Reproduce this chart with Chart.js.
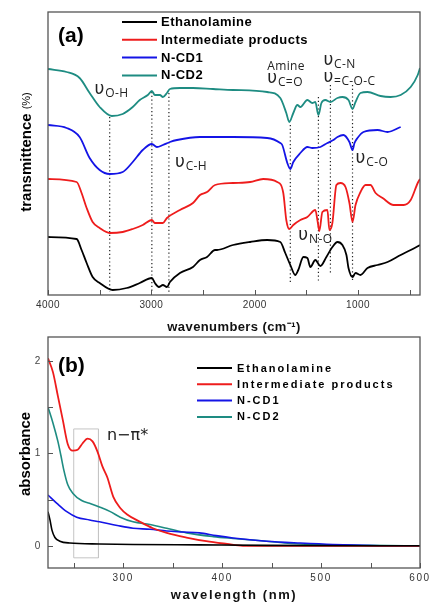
<!DOCTYPE html>
<html>
<head>
<meta charset="utf-8">
<script src="https://cdn.jsdelivr.net/npm/chart.js@4.4.1/dist/chart.umd.min.js"></script>
<style>
  html, body { margin: 0; padding: 0; background: #fff; }
  #wrapA { position: absolute; left: 0; top: 0; width: 429px; height: 335px; }
  #wrapB { position: absolute; left: 0; top: 335px; width: 429px; height: 268px; }
</style>
</head>
<body>
<div id="wrapA"><canvas id="ftirChart"></canvas></div>
<div id="wrapB"><canvas id="uvChart"></canvas></div>
<script>
// --- Daten (a): FTIR, Wellenzahl in cm-1, Transmission in willkürlichen Einheiten ---
const seriesNames = ['Ethanolamine', 'Intermediate products', 'N-CD1', 'N-CD2'];
const seriesColors = ['#000000', '#ee1c1c', '#1414e6', '#1e8c82'];

const ethWn = [4000,3723,3675,3626,3568,3500,3374,3238,3112,2995,2966,2927,2888,2849,2820,2723,2597,2529,2461,2383,2364,2209,2044,1879,1752,1704,1655,1607,1578,1529,1490,1461,1413,1364,1306,1248,1199,1151,1112,1092,1053,1024,976,908,811,714,587,490,400];
const ethT  = [58,56,45,32,18,12,5,7,12,17,12,8,10,8,13,22,28,35,38,45,45,50,53,55,53,42,30,20,25,38,37,28,35,29,38,48,53,50,40,27,18,22,20,27,30,33,40,45,50];

const intWn = [4000,3723,3675,3626,3568,3500,3403,3277,3180,3083,2995,2966,2917,2888,2849,2723,2597,2529,2461,2383,2209,2044,1917,1782,1723,1694,1665,1626,1558,1490,1413,1393,1374,1345,1296,1277,1248,1209,1170,1121,1083,1053,1024,976,927,879,830,762,655,558,490,422,400];
const intT  = [116,113,102,87,73,67,62,63,66,70,75,72,72,72,77,85,92,100,103,110,112,113,116,113,102,75,66,70,75,78,85,75,64,83,85,65,72,110,112,108,92,73,90,103,110,110,102,97,90,90,95,112,116];

const cd1Wn = [4000,3820,3694,3597,3500,3403,3277,3180,3083,2995,2946,2888,2820,2752,2529,2209,1879,1752,1733,1684,1655,1626,1558,1490,1442,1364,1296,1238,1199,1141,1083,1053,1034,1005,947,811,714,587];
const cd1T  = [170,167,158,137,125,121,123,133,145,151,148,150,153,155,158,158,157,152,150,132,126,133,142,148,147,148,152,155,158,160,153,145,152,157,163,165,163,168];

const cd2Wn = [4000,3820,3694,3597,3500,3383,3277,3180,3112,3034,2995,2966,2917,2888,2849,2820,2723,2597,2403,2209,1879,1752,1694,1665,1626,1587,1558,1490,1442,1413,1383,1354,1316,1267,1199,1151,1092,1053,1024,976,908,782,685,587,490,422,400];
const cd2T  = [226,223,217,202,188,179,181,188,195,200,204,200,200,198,202,206,207,207,206,205,203,197,182,173,182,190,188,195,192,193,180,192,195,193,197,198,195,186,193,202,203,199,198,200,208,220,227];

// gepunktete Markierungslinien (Bandenlage, oberes/unteres Ende)
const markerWn     = [3403, 2995, 2830, 1655, 1383, 1267, 1053];
const markerTop    = [178, 203, 202, 170, 198, 210, 210];
const markerBottom = [3, 3, 3, 13, 13, 20, 13];

const ftirTicks = [4000, 3500, 3000, 2500, 2000, 1500, 1000, 500];

// Beschriftungen der Banden
const ftirLabels = [
  { wn: 3549, t: 201, main: 'υ', sub: 'O-H' },
  { wn: 2772, t: 128, main: 'υ', sub: 'C-H' },
  { wn: 1879, t: 225, main: 'Amine', sub: '' },
  { wn: 1879, t: 212, main: 'υ', sub: 'C=O' },
  { wn: 1335, t: 230, main: 'υ', sub: 'C-N' },
  { wn: 1335, t: 213, main: 'υ', sub: '=C-O-C' },
  { wn: 1024, t: 132, main: 'υ', sub: 'C-O' },
  { wn: 1578, t: 55,  main: 'υ', sub: 'N-O' }
];

// --- Daten (b): UV-Vis ---
const ethNm  = [224,226,228,231,236,246,276,310,377,445,600];
const ethAbs = [0.37,0.28,0.17,0.09,0.05,0.03,0.02,0.015,0.01,0.005,0.0];

const intNm  = [224,229,234,239,244,249,254,259,264,269,274,279,284,290,297,304,317,330,344,364,384,405,421,600];
const intAbs = [2.03,1.88,1.62,1.36,1.10,1.03,1.04,1.11,1.16,1.13,1.02,0.86,0.74,0.53,0.41,0.34,0.26,0.19,0.14,0.09,0.05,0.02,0.0,0.0];

const cd1Nm  = [224,233,243,253,266,276,294,310,327,344,360,377,394,411,445,479,512,580,600];
const cd1Abs = [0.55,0.46,0.37,0.31,0.28,0.26,0.22,0.19,0.18,0.16,0.15,0.14,0.11,0.085,0.05,0.03,0.015,0.0,0.0];

const cd2Nm  = [224,229,234,237,240,244,249,258,266,276,287,297,310,327,344,364,391,411,445,479,512,550,600];
const cd2Abs = [1.50,1.33,1.13,0.98,0.82,0.66,0.57,0.49,0.46,0.42,0.37,0.31,0.26,0.23,0.19,0.14,0.10,0.08,0.05,0.02,0.01,0.005,0.0];

// grauer Kasten um die n-pi* Bande
const boxNm  = [250, 250, 275, 275, 250];
const boxAbs = [-0.13, 1.265, 1.265, -0.13, -0.13];

const uvXTicks = [250, 300, 350, 400, 450, 500, 550, 600];
const uvYTicks = [0, 0.5, 1, 1.5, 2];

// --- Hilfsfunktionen ---
function toPoints(xs, ys) {
    return xs.map((x, i) => ({ x: x, y: ys[i] }));
}

function seriesDataset(i, xs, ys, width) {
    return {
        label: seriesNames[i],
        data: toPoints(xs, ys),
        borderColor: seriesColors[i],
        borderWidth: width,
        pointRadius: 0,
        tension: 0.3,
        cubicInterpolationMode: 'monotone',
        inLegend: true
    };
}

// Rahmen + nach innen zeigende Ticks
const framePlugin = {
    id: 'frame',
    afterDatasetsDraw(chart, args, opts) {
        const { ctx, chartArea: a, scales } = chart;
        ctx.save();
        ctx.strokeStyle = '#555';
        ctx.lineWidth = 1.3;
        ctx.strokeRect(a.left, a.top, a.right - a.left, a.bottom - a.top);
        ctx.lineWidth = 1;
        ctx.beginPath();
        (opts.xTicks || []).forEach(v => {
            const x = Math.round(scales.x.getPixelForValue(v)) + 0.5;
            ctx.moveTo(x, a.bottom);
            ctx.lineTo(x, a.bottom - opts.len);
        });
        (opts.yTicks || []).forEach(v => {
            const y = Math.round(scales.y.getPixelForValue(v)) + 0.5;
            ctx.moveTo(a.left, y);
            ctx.lineTo(a.left + opts.len, y);
        });
        ctx.stroke();
        ctx.restore();
    }
};

// Legende, Panelbuchstabe, Y-Titel
const textPlugin = {
    id: 'texts',
    beforeDraw(chart, args, opts) {
        chart.ctx.letterSpacing = opts.spacing || '0px';
    },
    afterDraw(chart, args, opts) {
        const ctx = chart.ctx;
        ctx.save();
        ctx.fillStyle = '#000';
        // Legende
        const lg = opts.legend;
        const items = chart.data.datasets.filter(d => d.inLegend);
        ctx.font = lg.font;
        ctx.letterSpacing = lg.spacing;
        ctx.textBaseline = 'middle';
        ctx.textAlign = 'left';
        items.forEach((d, i) => {
            const y = lg.y + i * lg.step;
            ctx.strokeStyle = d.borderColor;
            ctx.lineWidth = 2;
            ctx.beginPath();
            ctx.moveTo(lg.x1, y);
            ctx.lineTo(lg.x2, y);
            ctx.stroke();
            ctx.fillStyle = '#000';
            ctx.fillText(d.label, lg.textX, y + 0.5);
        });
        ctx.letterSpacing = '0px';
        // Panelbuchstabe
        ctx.font = 'bold 21px "Liberation Sans", Arial, sans-serif';
        ctx.fillText(opts.panel.text, opts.panel.x, opts.panel.y);
        // Y-Titel (gedreht, evtl. zweiteilig)
        const yt = opts.yTitle;
        ctx.translate(yt.x, yt.y);
        ctx.rotate(-Math.PI / 2);
        ctx.font = yt.font1;
        const w1 = ctx.measureText(yt.text1).width;
        let w2 = 0;
        if (yt.text2) {
            ctx.font = yt.font2;
            w2 = ctx.measureText(yt.text2).width + 4;
        }
        const start = -(w1 + w2) / 2;
        ctx.font = yt.font1;
        ctx.fillText(yt.text1, start, 0);
        if (yt.text2) {
            ctx.font = yt.font2;
            ctx.fillText(yt.text2, start + w1 + 4, 0);
        }
        ctx.restore();
        ctx.letterSpacing = '0px';
    }
};

// Bandenbeschriftungen in Datenkoordinaten
const bandLabelPlugin = {
    id: 'bandLabels',
    afterDatasetsDraw(chart, args, opts) {
        if (!opts.items) return;
        const { ctx, scales } = chart;
        ctx.save();
        ctx.fillStyle = '#222';
        ctx.textBaseline = 'alphabetic';
        ctx.textAlign = 'left';
        opts.items.forEach(it => {
            const x = scales.x.getPixelForValue(it.wn);
            const y = scales.y.getPixelForValue(it.t);
            if (it.main === 'υ') {
                ctx.font = '17px "DejaVu Sans", sans-serif';
                ctx.fillText(it.main, x, y);
                const w = ctx.measureText(it.main).width;
                ctx.font = '12px "Open Sans", sans-serif';
                ctx.fillText(it.sub, x + w + 0.5, y + 3);
            } else {
                ctx.font = '12px "Open Sans", sans-serif';
                ctx.fillText(it.main, x, y);
            }
        });
        ctx.restore();
    }
};

Chart.register(framePlugin, textPlugin, bandLabelPlugin);

const fixPadding = s => { s.paddingLeft = 0; s.paddingRight = 0; s.paddingTop = 0; s.paddingBottom = 0; };

// --- Diagramm (a) ---
const ftirDatasets = [
    seriesDataset(0, ethWn, ethT, 1.8),
    seriesDataset(1, intWn, intT, 1.8),
    seriesDataset(2, cd1Wn, cd1T, 1.8),
    seriesDataset(3, cd2Wn, cd2T, 1.8)
];
markerWn.forEach((wn, i) => {
    ftirDatasets.push({
        label: '',
        data: [{ x: wn, y: markerTop[i] }, { x: wn, y: markerBottom[i] }],
        borderColor: '#222',
        borderWidth: 1.2,
        borderDash: [1.2, 2.6],
        pointRadius: 0
    });
});

new Chart(document.getElementById('ftirChart'), {
    type: 'line',
    data: { datasets: ftirDatasets },
    options: {
        responsive: true,
        maintainAspectRatio: false,
        animation: false,
        layout: { padding: { left: 48, right: 9, top: 12, bottom: 0 } },
        plugins: {
            legend: { display: false },
            tooltip: { enabled: false },
            frame: { xTicks: ftirTicks, len: 5 },
            bandLabels: { items: ftirLabels },
            texts: {
                spacing: '0.4px',
                legend: { x1: 122, x2: 157, textX: 161, y: 22, step: 17.8, font: 'bold 13px "Liberation Sans", Arial, sans-serif', spacing: '0.5px' },
                panel: { text: '(a)', x: 58, y: 36 },
                yTitle: { x: 27, y: 152, text1: 'transmittence', font1: 'bold 15px "Liberation Sans", Arial, sans-serif', text2: '(%)', font2: '11px "Liberation Sans", Arial, sans-serif' }
            }
        },
        scales: {
            x: {
                type: 'linear',
                min: 400,
                max: 4000,
                reverse: true,
                grid: { display: false, drawTicks: false },
                border: { display: false },
                afterBuildTicks: s => { s.ticks = ftirTicks.map(v => ({ value: v })); },
                afterFit: s => { s.height = 40; fixPadding(s); },
                ticks: {
                    autoSkip: false,
                    maxRotation: 0,
                    padding: 4,
                    color: '#333',
                    font: { family: '"Liberation Sans", Arial, sans-serif', size: 10 },
                    callback: v => (v % 1000 === 0 ? String(v) : '')
                },
                title: {
                    display: true,
                    text: 'wavenumbers (cm⁻¹)',
                    color: '#111',
                    padding: { top: 0, bottom: 0 },
                    font: { family: '"Liberation Sans", Arial, sans-serif', size: 13, weight: 'bold' }
                }
            },
            y: { type: 'linear', min: 0, max: 283, display: false }
        }
    }
});

// --- Diagramm (b) ---
const uvDatasets = [
    seriesDataset(0, ethNm, ethAbs, 1.6),
    seriesDataset(1, intNm, intAbs, 1.8),
    seriesDataset(2, cd1Nm, cd1Abs, 1.6),
    seriesDataset(3, cd2Nm, cd2Abs, 1.6),
    {
        label: '',
        data: toPoints(boxNm, boxAbs),
        borderColor: '#c4c4c4',
        borderWidth: 1,
        pointRadius: 0,
        tension: 0
    }
];

const npiLabelPlugin = {
    id: 'npiLabel',
    afterDatasetsDraw(chart) {
        const { ctx, scales } = chart;
        ctx.save();
        ctx.letterSpacing = '0px';
        ctx.fillStyle = '#222';
        ctx.font = '16px "DejaVu Sans", sans-serif';
        ctx.textBaseline = 'middle';
        ctx.fillText('n−π*', scales.x.getPixelForValue(283.6), scales.y.getPixelForValue(1.19));
        ctx.restore();
    }
};

new Chart(document.getElementById('uvChart'), {
    type: 'line',
    data: { datasets: uvDatasets },
    plugins: [npiLabelPlugin],
    options: {
        responsive: true,
        maintainAspectRatio: false,
        animation: false,
        layout: { padding: { left: 0, right: 9, top: 2, bottom: 0 } },
        plugins: {
            legend: { display: false },
            tooltip: { enabled: false },
            frame: { xTicks: uvXTicks, yTicks: uvYTicks, len: 5 },
            texts: {
                spacing: '1.6px',
                legend: { x1: 197, x2: 232, textX: 237, y: 33, step: 16.3, font: 'bold 11px "Liberation Sans", Arial, sans-serif', spacing: '2px' },
                panel: { text: '(b)', x: 58, y: 31 },
                yTitle: { x: 26, y: 119, text1: 'absorbance', font1: 'bold 15px "Liberation Sans", Arial, sans-serif' }
            }
        },
        scales: {
            x: {
                type: 'linear',
                min: 224,
                max: 600,
                grid: { display: false, drawTicks: false },
                border: { display: false },
                afterBuildTicks: s => { s.ticks = uvXTicks.map(v => ({ value: v })); },
                afterFit: s => { s.height = 35; fixPadding(s); },
                ticks: {
                    autoSkip: false,
                    maxRotation: 0,
                    padding: 4,
                    color: '#333',
                    font: { family: '"Liberation Sans", Arial, sans-serif', size: 10 },
                    callback: v => (v % 100 === 0 ? String(v) : '')
                },
                title: {
                    display: true,
                    text: 'wavelength (nm)',
                    color: '#111',
                    padding: { top: 0, bottom: 0 },
                    font: { family: '"Liberation Sans", Arial, sans-serif', size: 13, weight: 'bold' }
                }
            },
            y: {
                type: 'linear',
                min: -0.24,
                max: 2.26,
                grid: { display: false, drawTicks: false },
                border: { display: false },
                afterBuildTicks: s => { s.ticks = uvYTicks.map(v => ({ value: v })); },
                afterFit: s => { s.width = 48; fixPadding(s); },
                ticks: {
                    autoSkip: false,
                    padding: 6,
                    color: '#444',
                    font: { family: '"Liberation Sans", Arial, sans-serif', size: 10 },
                    callback: v => (Number.isInteger(v) ? String(v) : '')
                }
            }
        }
    }
});
</script>
</body>
</html>
